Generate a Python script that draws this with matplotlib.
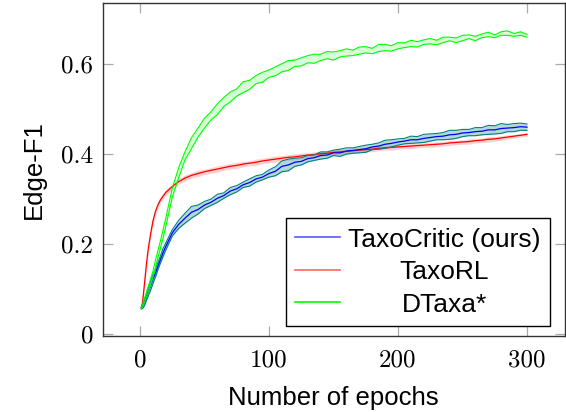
import numpy as np
import matplotlib
matplotlib.use("Agg")
import matplotlib.pyplot as plt
from matplotlib.lines import Line2D

epochs = [1, 2, 3, 4, 5, 6, 7, 8, 10, 12, 14, 16, 18, 20] + list(range(25, 301, 5))

dtaxa = [0.057, 0.062, 0.070, 0.078, 0.087, 0.095, 0.104, 0.113, 0.132, 0.155, 0.178, 0.200, 0.223, 0.248,
         0.313, 0.358, 0.396, 0.424, 0.447, 0.468, 0.484, 0.499, 0.515, 0.526, 0.536, 0.548, 0.553, 0.565,
         0.570, 0.578, 0.583, 0.591, 0.596, 0.601, 0.604, 0.610, 0.611, 0.614, 0.619, 0.617, 0.622, 0.625,
         0.624, 0.629, 0.631, 0.628, 0.635, 0.636, 0.634, 0.640, 0.641, 0.645, 0.643, 0.648, 0.650, 0.647,
         0.653, 0.655, 0.652, 0.657, 0.660, 0.656, 0.662, 0.665, 0.661, 0.667, 0.668, 0.664, 0.667, 0.662]
dtaxa_std = [0.002, 0.003, 0.004, 0.005, 0.005, 0.006, 0.006, 0.007, 0.007, 0.008, 0.008, 0.008, 0.009, 0.009,
             0.010, 0.011, 0.009, 0.012, 0.010, 0.011, 0.009, 0.012, 0.010, 0.011, 0.008, 0.012, 0.010, 0.009,
             0.011, 0.008, 0.010, 0.009, 0.011, 0.007, 0.009, 0.008, 0.010, 0.007, 0.008, 0.009, 0.007, 0.008,
             0.006, 0.008, 0.007, 0.006, 0.008, 0.007, 0.006, 0.007, 0.005, 0.007, 0.006, 0.005, 0.006, 0.005,
             0.006, 0.004, 0.005, 0.006, 0.004, 0.005, 0.004, 0.005, 0.003, 0.004, 0.005, 0.003, 0.004, 0.003]

taxorl = [0.058, 0.070, 0.098, 0.127, 0.155, 0.180, 0.200, 0.218, 0.250, 0.272, 0.287, 0.298, 0.306, 0.314,
          0.327, 0.338, 0.346, 0.352, 0.356, 0.360, 0.363, 0.366, 0.369, 0.372, 0.374, 0.377, 0.379, 0.381,
          0.384, 0.386, 0.388, 0.390, 0.392, 0.393, 0.395, 0.397, 0.398, 0.400, 0.401, 0.403, 0.404, 0.405,
          0.407, 0.408, 0.409, 0.410, 0.412, 0.413, 0.414, 0.415, 0.416, 0.417, 0.418, 0.419, 0.420, 0.421,
          0.422, 0.424, 0.425, 0.426, 0.427, 0.429, 0.430, 0.432, 0.433, 0.435, 0.437, 0.439, 0.441, 0.443]
taxorl_std = [0.002, 0.006, 0.010, 0.012, 0.012, 0.011, 0.010, 0.010, 0.009, 0.008, 0.008, 0.007, 0.007, 0.007,
              0.007, 0.006, 0.007, 0.006, 0.007, 0.006, 0.006, 0.007, 0.006, 0.006, 0.007, 0.006, 0.006, 0.007,
              0.006, 0.006, 0.007, 0.006, 0.006, 0.007, 0.006, 0.005, 0.006, 0.006, 0.005, 0.006, 0.005, 0.005,
              0.006, 0.005, 0.005, 0.006, 0.005, 0.005, 0.006, 0.005, 0.005, 0.006, 0.005, 0.005, 0.006, 0.005,
              0.005, 0.006, 0.005, 0.005, 0.006, 0.005, 0.005, 0.006, 0.005, 0.005, 0.005, 0.004, 0.004, 0.004]

taxocritic = [0.057, 0.060, 0.066, 0.073, 0.082, 0.090, 0.098, 0.105, 0.121, 0.135, 0.151, 0.166, 0.181, 0.194,
              0.224, 0.243, 0.257, 0.270, 0.276, 0.286, 0.292, 0.301, 0.307, 0.317, 0.322, 0.331, 0.336, 0.344,
              0.348, 0.356, 0.361, 0.372, 0.375, 0.381, 0.383, 0.389, 0.391, 0.396, 0.397, 0.402, 0.402, 0.406,
              0.407, 0.409, 0.411, 0.415, 0.417, 0.421, 0.423, 0.426, 0.428, 0.431, 0.431, 0.434, 0.436, 0.438,
              0.439, 0.442, 0.443, 0.446, 0.447, 0.449, 0.450, 0.453, 0.453, 0.456, 0.457, 0.458, 0.460, 0.459]
taxocritic_std = [0.002, 0.004, 0.006, 0.007, 0.008, 0.009, 0.010, 0.010, 0.010, 0.009, 0.008, 0.008, 0.009, 0.008,
                  0.007, 0.009, 0.011, 0.013, 0.010, 0.008, 0.007, 0.009, 0.006, 0.008, 0.007, 0.006, 0.008, 0.007,
                  0.006, 0.008, 0.010, 0.012, 0.013, 0.009, 0.008, 0.007, 0.006, 0.008, 0.007, 0.006, 0.008, 0.007,
                  0.006, 0.007, 0.008, 0.006, 0.007, 0.009, 0.008, 0.007, 0.006, 0.008, 0.007, 0.009, 0.008, 0.007,
                  0.008, 0.010, 0.009, 0.008, 0.007, 0.009, 0.008, 0.010, 0.009, 0.011, 0.008, 0.009, 0.008, 0.007]

labels = ["TaxoCritic (ours)", "TaxoRL", "DTaxa*"]
xticks = [0, 100, 200, 300]
yticks = [0, 0.2, 0.4, 0.6]
yticklabels = ["0", "0.2", "0.4", "0.6"]

fig = plt.figure(figsize=(5.66, 4.12), dpi=100)
ax = fig.add_axes([0.1815, 0.1852, 0.8168, 0.8083])

x = np.array(epochs)

# TaxoRL
m, s = np.array(taxorl), np.array(taxorl_std)
ax.fill_between(x, m - s, m + s, color="#ffb0b0", alpha=0.6, lw=0)
ax.plot(x, m, color="red", lw=0.9)

# TaxoCritic
m, s = np.array(taxocritic), np.array(taxocritic_std)
ax.fill_between(x, m - s, m + s, color="#008080", alpha=0.3, lw=0)
ax.plot(x, m - s, color="#008080", lw=0.8)
ax.plot(x, m + s, color="#008080", lw=0.8)
ax.plot(x, m, color="blue", lw=0.9)

# DTaxa*
m, s = np.array(dtaxa), np.array(dtaxa_std)
ax.fill_between(x, m - s, m + s, color="#b0ffb0", alpha=0.5, lw=0)
ax.plot(x, m - s, color="#00ff00", lw=0.8)
ax.plot(x, m + s, color="#00ff00", lw=0.8)

ax.set_xlim(-28.9, 329.5)
ax.set_ylim(-0.0044, 0.7356)

ax.set_xticks(xticks)
ax.set_xticklabels([str(t) for t in xticks], fontfamily="cmr10", fontsize=18)
ax.set_yticks(yticks)
ax.set_yticklabels(yticklabels, fontfamily="cmr10", fontsize=18)
ax.tick_params(direction="in", top=True, right=True, length=7.5, width=0.9,
               color="#aaaaaa", pad=7)
ax.tick_params(axis="x", pad=10)

for sp in ax.spines.values():
    sp.set_linewidth(1.0)
    sp.set_color("#333333")

ax.set_xlabel("Number of epochs", fontfamily="Liberation Sans", fontsize=18.5)
ax.set_ylabel("Edge-F1", fontfamily="Liberation Sans", fontsize=18.5)
ax.xaxis.set_label_coords(0.498, -0.152)
ax.yaxis.set_label_coords(-0.1226, 0.5)

handles = [Line2D([], [], color="blue", alpha=0.65, lw=1.2),
           Line2D([], [], color="red", alpha=0.6, lw=1.2),
           Line2D([], [], color="#00ff00", lw=1.2)]
leg = ax.legend(handles, labels, loc="lower right", bbox_to_anchor=(0.9676, 0.029),
                borderaxespad=0, fancybox=False, framealpha=1, edgecolor="black",
                prop={"family": "Liberation Sans", "size": 19},
                handlelength=1.7, handleheight=0.7, handletextpad=0.3,
                borderpad=0.36, labelspacing=0.32)
leg.get_frame().set_linewidth(1.0)

# center legend texts like pgfplots does
fig.canvas.draw()
texts = leg.get_texts()
widths = [t.get_window_extent().width for t in texts]
wmax = max(widths)
for t, w in zip(texts, widths):
    t.set_x((wmax - w) / 2)

fig.savefig("out.png", dpi=100)
